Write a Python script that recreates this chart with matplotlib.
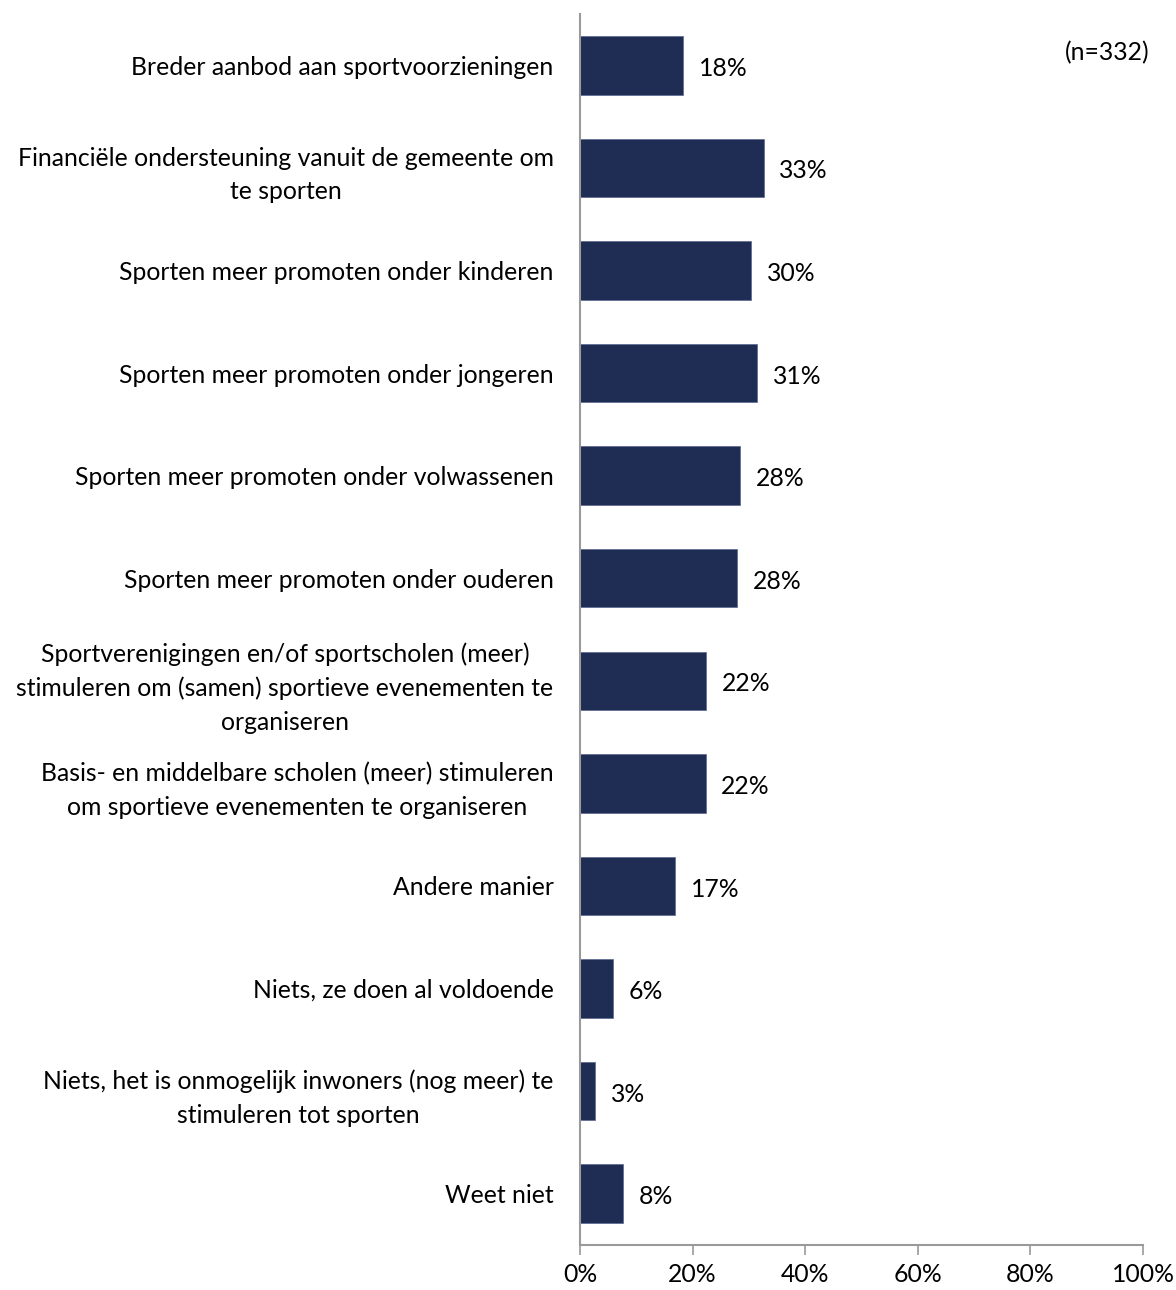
import matplotlib.pyplot as plt
from matplotlib.ticker import FuncFormatter

# antwoordcategorieën, van boven naar beneden
categories = [
    "Breder aanbod aan sportvoorzieningen",
    "Financiële ondersteuning vanuit de gemeente om\nte sporten",
    "Sporten meer promoten onder kinderen",
    "Sporten meer promoten onder jongeren",
    "Sporten meer promoten onder volwassenen",
    "Sporten meer promoten onder ouderen",
    "Sportverenigingen en/of sportscholen (meer)\nstimuleren om (samen) sportieve evenementen te\norganiseren",
    "Basis- en middelbare scholen (meer) stimuleren\nom sportieve evenementen te organiseren",
    "Andere manier",
    "Niets, ze doen al voldoende",
    "Niets, het is onmogelijk inwoners (nog meer) te\nstimuleren tot sporten",
    "Weet niet",
]
percentages = [18.3, 32.6, 30.4, 31.4, 28.4, 27.9, 22.4, 22.3, 16.9, 5.8, 2.7, 7.6]
x_ticks = [0, 20, 40, 60, 80, 100]
n_label = "(n=332)"

bar_color = "#1F2D55"
axis_color = "#9A9A9A"
fs = 17.8

plt.rcParams["font.family"] = ["Lato", "DejaVu Sans"]

fig = plt.figure(figsize=(11.76, 12.9), dpi=100)
ax = fig.add_axes([580 / 1176, 1 - 1245 / 1290, (1143 - 580) / 1176, (1245 - 14) / 1290])

y = list(range(len(categories)))
ax.barh(y, percentages, height=0.57, color=bar_color, edgecolor="#5A6690", linewidth=0.5)

for yi, p in zip(y, percentages):
    ax.text(p + 2.8, yi + 0.03, f"{p:.0f}%", va="center", ha="left", fontsize=fs, color="black")

ax.set_xlim(0, 100)
ax.set_ylim(len(categories) - 0.5, -0.5)
ax.set_xticks(x_ticks)
ax.xaxis.set_major_formatter(FuncFormatter(lambda v, _: f"{v:.0f}%"))
ax.set_yticks(y)
ax.set_yticklabels(categories, fontsize=fs, multialignment="center", linespacing=1.55)
ax.tick_params(axis="y", length=0, pad=19)
ax.tick_params(axis="x", length=7, width=1.2, color=axis_color, labelsize=fs, pad=6)

for side in ["top", "right"]:
    ax.spines[side].set_visible(False)
for side in ["left", "bottom"]:
    ax.spines[side].set_color(axis_color)
    ax.spines[side].set_linewidth(1.5)

fig.text(1149 / 1176, 1 - 53 / 1290, n_label, ha="right", va="center", fontsize=fs)

fig.savefig("out.png", dpi=100)
